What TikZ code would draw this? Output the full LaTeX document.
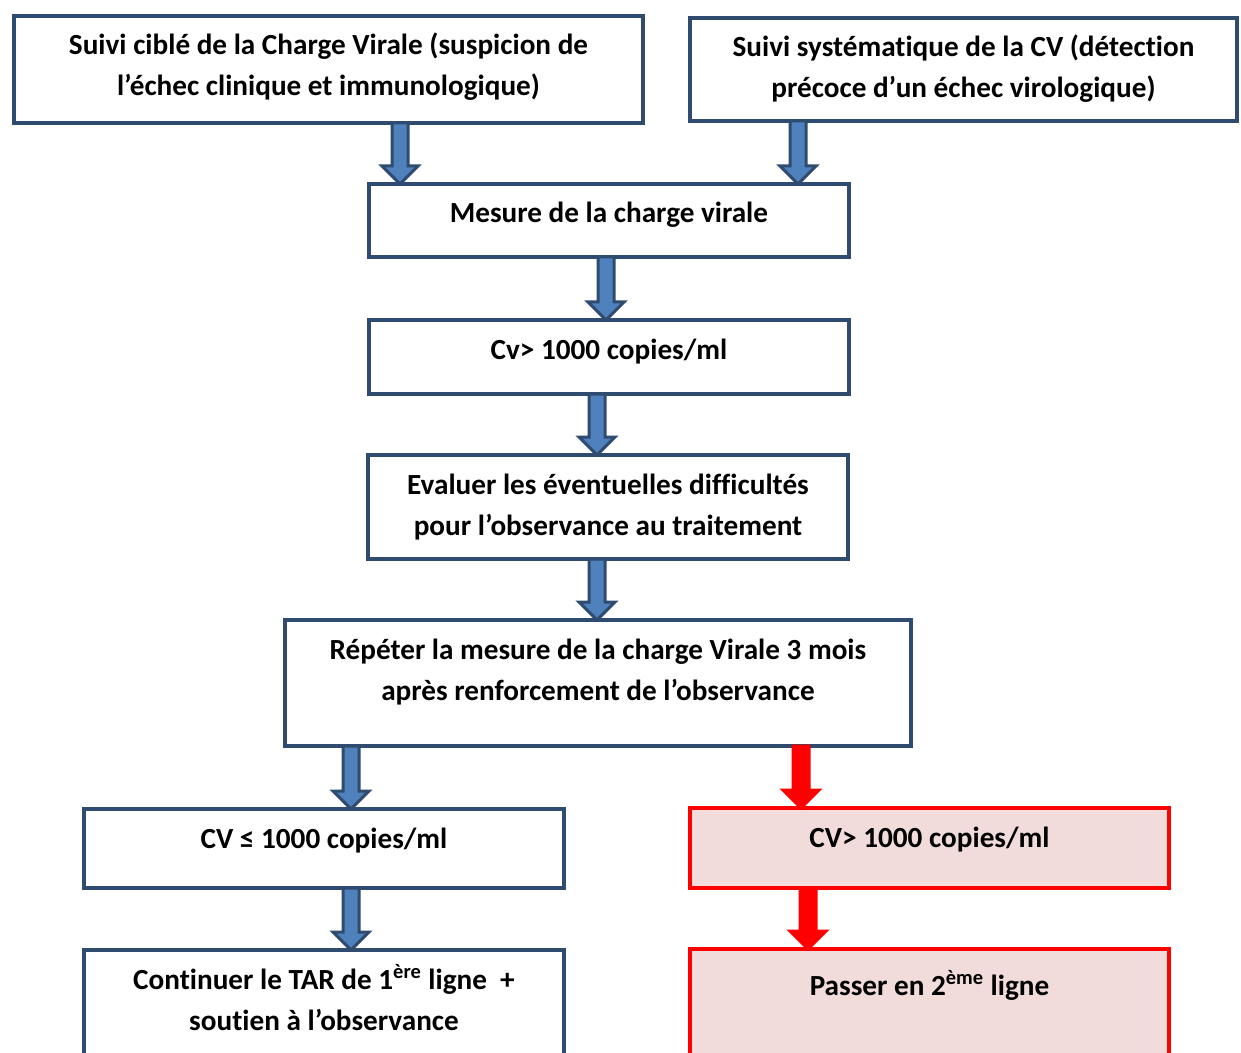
\documentclass[tikz,border=0pt]{standalone}
\usepackage{fontspec}
\setmainfont{Carlito}[Ligatures=NoCommon]
\usetikzlibrary{calc}

\definecolor{navy}{HTML}{2F4B6F}
\definecolor{arrowblue}{HTML}{4F81BD}
\definecolor{pinkfill}{HTML}{F2DCDB}

% block arrow going down from node #3 to node #4, at x = #2
\newcommand{\downblock}[4][bluearrow]{%
  \path[#1] let \p1 = (#3.south), \p2 = (#4.north), \p3 = (#2,0) in
    (\x3-4pt,\y1) -- (\x3-4pt,\y2+9pt) -- (\x3-9pt,\y2+9pt) -- (\x3,\y2)
    -- (\x3+9pt,\y2+9pt) -- (\x3+4pt,\y2+9pt) -- (\x3+4pt,\y1) -- cycle;}

\begin{document}
\begin{tikzpicture}[x=0.5pt, y=-0.5pt]
    \tikzset{
        box/.style       = {draw=navy, line width=2pt, rectangle, anchor=north,
                            align=center, inner sep=0pt, outer sep=0pt,
                            text height=11pt,
                            font=\fontsize{14.6pt}{20.5pt}\selectfont\bfseries},
        twoline/.style   = {text height=31.5pt},
        redbox/.style    = {box, draw=red, fill=pinkfill},
        bluearrow/.style = {draw=navy, fill=arrowblue, line width=1.5pt},
        redarrow/.style  = {draw=red, fill=red, line width=1.5pt}
    }
    \useasboundingbox (0,0) rectangle (1241,1053);
    \clip (0,0) rectangle (1241,1053);

    \node[box, twoline, minimum width=314.5pt, minimum height=53.5pt, text depth=5pt] (SUIVI1) at (328.5,16)
        {Suivi ciblé de la Charge Virale (suspicion de\\ l’échec clinique et immunologique)};
    \node[box, twoline, minimum width=273.5pt, minimum height=51.5pt, text depth=3pt] (SUIVI2) at (963.5,18)
        {Suivi systématique de la CV (détection\\ précoce d’un échec virologique)};
    \node[box, minimum width=240pt, minimum height=36.5pt, text depth=8.5pt] (MES) at (609,184)
        {Mesure de la charge virale};
    \node[box, minimum width=240pt, minimum height=37pt, text depth=9pt] (CV) at (609,320)
        {Cv> 1000 copies/ml};
    \node[box, twoline, minimum width=240pt, minimum height=52pt, text depth=3.5pt] (EVAL) at (608,455)
        {Evaluer les éventuelles difficultés\\ pour l’observance au traitement};
    \node[box, twoline, minimum width=313pt, minimum height=63pt, text depth=14.5pt] (REP) at (598,620)
        {Répéter la mesure de la charge Virale 3 mois\\ après renforcement de l’observance};
    \node[box, minimum width=240pt, minimum height=39.5pt, text depth=11.5pt] (CVLOW) at (324,809)
        {CV ≤ 1000 copies/ml};
    \node[redbox, minimum width=239.5pt, minimum height=40pt, text depth=12pt] (CVHIGH) at (929.5,808)
        {CV> 1000 copies/ml};
    \node[box, twoline, minimum width=240pt, minimum height=65pt, text depth=16.5pt] (CONT) at (324,950)
        {Continuer le TAR de 1\textsuperscript{ère} ligne~ +\\ soutien à l’observance};
    \node[redbox, minimum width=239.5pt, minimum height=65pt, text depth=30pt] (PASS) at (929.5,949)
        {Passer en 2\textsuperscript{ème} ligne};

    \downblock{400}{SUIVI1}{MES}
    \downblock{798}{SUIVI2}{MES}
    \downblock{606}{MES}{CV}
    \downblock{597}{CV}{EVAL}
    \downblock{597}{EVAL}{REP}
    \downblock{351}{REP}{CVLOW}
    \downblock[redarrow]{801}{REP}{CVHIGH}
    \downblock{351}{CVLOW}{CONT}
    \downblock[redarrow]{808}{CVHIGH}{PASS}
\end{tikzpicture}
\end{document}
